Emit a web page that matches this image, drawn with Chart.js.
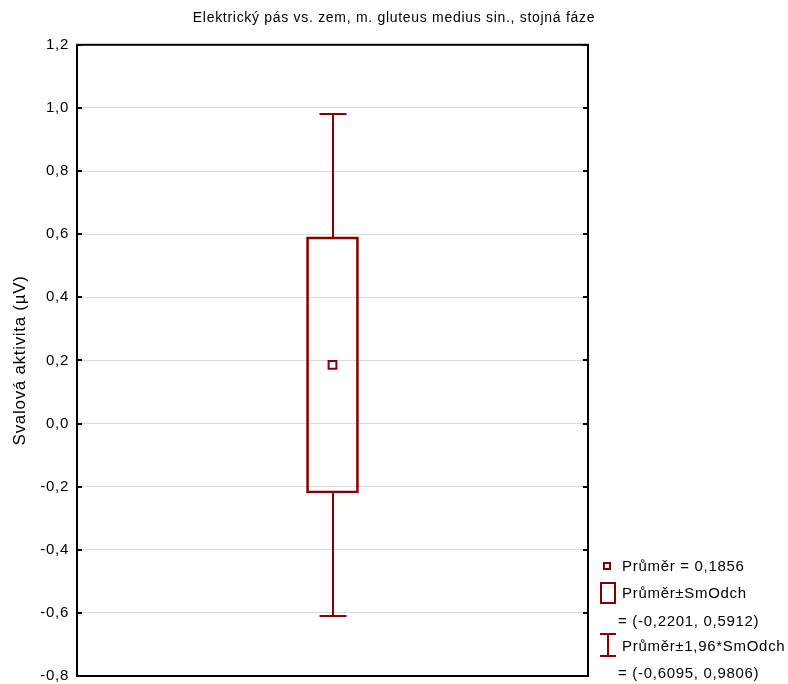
<!DOCTYPE html>
<html>
<head>
<meta charset="utf-8">
<script src="https://cdn.jsdelivr.net/npm/chart.js@4/dist/chart.umd.min.js"></script>
<style>
  html, body { margin: 0; padding: 0; background: #fff; }
  #wrap { width: 788px; height: 684px; }
</style>
</head>
<body>
<div id="wrap"><canvas id="myChart" width="788" height="684"></canvas></div>
<script>
// data
const categories = ['Elektrický pás vs. zem'];
const meanValues = [0.1856];
const sdLow = [-0.2201];
const sdHigh = [0.5912];
const ciLow = [-0.6095];
const ciHigh = [0.9806];
const yMin = -0.8, yMax = 1.2, yStep = 0.2;

const titleText = 'Elektrický pás vs. zem, m. gluteus medius sin., stojná fáze';
const yTitle = 'Svalová aktivita (µV)';
const legendLines = [
  'Průměr = 0,1856',
  'Průměr±SmOdch',
  '= (-0,2201, 0,5912)',
  'Průměr±1,96*SmOdch',
  '= (-0,6095, 0,9806)'
];

const dark = '#880000';
const fontName = "'Liberation Sans', Arial, sans-serif";
const fmt = v => v.toFixed(1).replace('.', ',');

// the original text is a bit spaced out
const spacing = {
  id: 'spacing',
  beforeUpdate(chart) { chart.ctx.letterSpacing = '0.7px'; },
  beforeDraw(chart) { chart.ctx.letterSpacing = '0.7px'; }
};

// whiskers (mean ± 1.96 sd) drawn from the y scale
const whiskers = {
  id: 'whiskers',
  afterDatasetsDraw(chart) {
    const ctx = chart.ctx;
    const y = chart.scales.y;
    const meta = chart.getDatasetMeta(1);
    ctx.save();
    ctx.strokeStyle = dark;
    ctx.lineWidth = 2;
    meta.data.forEach((bar, i) => {
      const x = Math.round(bar.x);
      const half = 13.5;
      ctx.beginPath();
      ctx.moveTo(x, y.getPixelForValue(sdHigh[i]));
      ctx.lineTo(x, y.getPixelForValue(ciHigh[i]));
      ctx.moveTo(x - half, y.getPixelForValue(ciHigh[i]));
      ctx.lineTo(x + half, y.getPixelForValue(ciHigh[i]));
      ctx.moveTo(x, y.getPixelForValue(sdLow[i]));
      ctx.lineTo(x, y.getPixelForValue(ciLow[i]));
      ctx.moveTo(x - half, y.getPixelForValue(ciLow[i]));
      ctx.lineTo(x + half, y.getPixelForValue(ciLow[i]));
      ctx.stroke();
    });
    ctx.restore();
  }
};

// frame, inner ticks and the legend beside the plot
const frame = {
  id: 'frame',
  afterDraw(chart) {
    const ctx = chart.ctx;
    const a = chart.chartArea;
    const y = chart.scales.y;
    ctx.save();
    ctx.strokeStyle = '#000';
    ctx.lineWidth = 2;
    ctx.strokeRect(a.left, a.top, a.right - a.left, a.bottom - a.top);
    ctx.beginPath();
    y.ticks.forEach(t => {
      const py = Math.round(y.getPixelForValue(t.value));
      ctx.moveTo(a.left, py); ctx.lineTo(a.left + 5, py);
      ctx.moveTo(a.right, py); ctx.lineTo(a.right - 5, py);
    });
    ctx.stroke();

    // legend
    const lx = a.right + 12;
    const ly = a.bottom;
    ctx.strokeStyle = dark;
    ctx.lineWidth = 2;
    ctx.fillStyle = '#fff';
    ctx.fillRect(lx + 4, ly - 113, 6, 6);
    ctx.strokeRect(lx + 4, ly - 113, 6, 6);
    ctx.strokeRect(lx + 1, ly - 93, 14, 20);
    ctx.beginPath();
    ctx.moveTo(lx, ly - 42); ctx.lineTo(lx + 16, ly - 42);
    ctx.moveTo(lx + 8, ly - 42); ctx.lineTo(lx + 8, ly - 20);
    ctx.moveTo(lx, ly - 20); ctx.lineTo(lx + 16, ly - 20);
    ctx.stroke();

    ctx.fillStyle = '#000';
    ctx.font = '15px ' + fontName;
    ctx.textBaseline = 'middle';
    const rows = [ly - 109, ly - 82, ly - 54, ly - 29, ly - 2];
    const xs = [lx + 22, lx + 22, lx + 18, lx + 22, lx + 18];
    legendLines.forEach((s, i) => ctx.fillText(s, xs[i], rows[i]));
    ctx.restore();
  }
};

const ctx = document.getElementById('myChart').getContext('2d');
new Chart(ctx, {
  data: {
    labels: categories,
    datasets: [
      {
        type: 'line',
        label: 'Průměr',
        data: meanValues,
        showLine: false,
        pointStyle: 'rect',
        pointRadius: 5.5,
        pointBorderWidth: 2,
        pointBackgroundColor: '#fff',
        pointBorderColor: dark
      },
      {
        type: 'bar',
        label: 'Průměr±SmOdch',
        data: sdLow.map((v, i) => [v, sdHigh[i]]),
        backgroundColor: 'rgba(255,255,255,0)',
        borderColor: dark,
        borderWidth: 2,
        borderSkipped: false,
        barThickness: 52
      }
    ]
  },
  options: {
    responsive: false,
    animation: false,
    layout: { padding: 0 },
    plugins: {
      legend: { display: false },
      tooltip: { enabled: false },
      title: {
        display: true,
        text: titleText,
        color: '#000',
        font: { family: fontName, size: 14, weight: 'normal' },
        padding: { top: 10, bottom: 18 }
      }
    },
    scales: {
      x: { display: false },
      y: {
        min: yMin,
        max: yMax,
        afterFit: s => { s.width = 77; s.paddingBottom = 8; },
        ticks: {
          stepSize: yStep,
          color: '#000',
          padding: 8,
          font: { family: fontName, size: 15 },
          callback: v => fmt(v)
        },
        grid: { color: '#dcdcdc', lineWidth: 1, drawTicks: false },
        border: { display: false },
        title: {
          display: true,
          text: yTitle,
          color: '#000',
          font: { family: fontName, size: 17 },
          padding: { top: 10, bottom: 0 }
        }
      },
      // empty right axis only keeps room for the legend
      side: {
        position: 'right',
        min: yMin,
        max: yMax,
        afterFit: s => { s.width = 200; s.paddingBottom = 8; },
        ticks: { display: false },
        grid: { display: false },
        border: { display: false }
      }
    }
  },
  plugins: [spacing, whiskers, frame]
});
</script>
</body>
</html>
